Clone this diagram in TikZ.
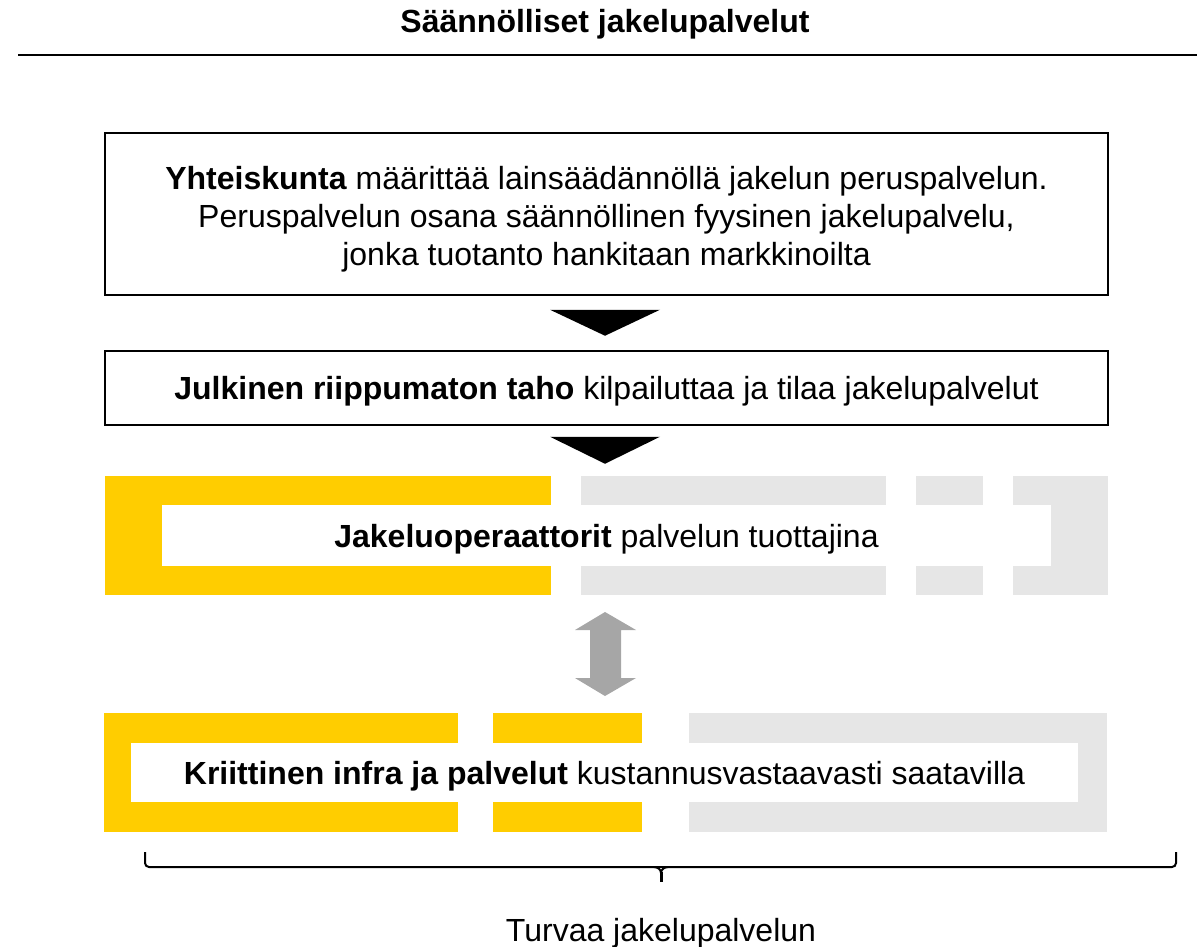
\documentclass[tikz,border=0pt]{standalone}
\usepackage{fontspec}
\setmainfont{Liberation Sans}
\usetikzlibrary{positioning}
\definecolor{keltainen}{HTML}{FFCD00}
\definecolor{harmaa}{HTML}{E6E6E6}
\definecolor{nuoli}{HTML}{A6A6A6}

\begin{document}
\begin{tikzpicture}[x=0.5pt, y=-0.5pt, line join=miter,
	teksti/.style={font=\fontsize{16}{19}\selectfont},
	laatikko/.style={teksti, draw, line width=0.75pt, fill=white, align=center, inner sep=0pt},
	sisus/.style={teksti, fill=white, inner sep=0pt, text height=11.5pt, text depth=0pt}]
	\useasboundingbox (0,0) rectangle (1197,946);
	% otsikko
	\node[teksti, anchor=base, font=\fontsize{16}{19}\selectfont\bfseries] (otsikko) at (605,33) {Säännölliset jakelupalvelut};
	\draw[line width=1pt] (18,55) -- (1197,55);
	% laatikot
	\node[laatikko, minimum width=501.5pt, minimum height=81pt] (yhteiskunta) at (606.5,214) {};
	\node[teksti, align=center, inner sep=0pt, yshift=-2.5pt] (yteksti) at (yhteiskunta)
	{\textbf{Yhteiskunta} määrittää lainsäädännöllä jakelun peruspalvelun.\\
		Peruspalvelun osana säännöllinen fyysinen jakelupalvelu,\\
		jonka tuotanto hankitaan markkinoilta};
	\node[laatikko, minimum width=501.5pt, minimum height=37pt, text height=11.5pt, text depth=0pt] (taho) at (606.5,388)
	{\textbf{Julkinen riippumaton taho} kilpailuttaa ja tilaa jakelupalvelut};
	\fill (yhteiskunta.south) ++(-56.5,14) -- ++(110,0) -- ++(-55,26) -- cycle;
	\fill (taho.south) ++(-56.5,11) -- ++(110,0) -- ++(-55,27) -- cycle;
	% palkit
	\fill[keltainen] (105,476) rectangle (551,595);
	\foreach \a/\b in {581/886, 916/983, 1013/1108}
	\fill[harmaa] (\a,476) rectangle (\b,595);
	\node[sisus, minimum width=444.5pt, minimum height=30.5pt] (operaattorit) at (606.5,535.5)
	{\textbf{Jakeluoperaattorit} palvelun tuottajina};
	\foreach \a/\b in {104/458, 493/642}
	\fill[keltainen] (\a,713) rectangle (\b,832);
	\fill[harmaa] (689,713) rectangle (1107,832);
	\node[sisus, minimum width=473.5pt, minimum height=29.5pt] (infra) at (604.5,772.5)
	{\textbf{Kriittinen infra ja palvelut} kustannusvastaavasti saatavilla};
	% nuoli
	\fill[nuoli] (605,612) -- (636,630) -- (621,630) -- (621,678) -- (636,678) -- (605,696)
	-- (575,678) -- (590,678) -- (590,630) -- (575,630) -- cycle;
	% aaltosulje
	\path (145,852) coordinate (A1) (1176,852) coordinate (A2) (661,882) coordinate (K);
	\draw[line width=1pt, rounded corners=2pt] (A1) -- (145,867) -- (1176,867) -- (A2);
	\draw[line width=1pt] (654,867) to[out=0, in=90] (661,873) to[out=90, in=180] (668,867);
	\draw[line width=1.5pt] (661,872) -- (K);
	\node[teksti, anchor=base] (turvaa) at (661,941) {Turvaa jakelupalvelun};
\end{tikzpicture}
\end{document}
